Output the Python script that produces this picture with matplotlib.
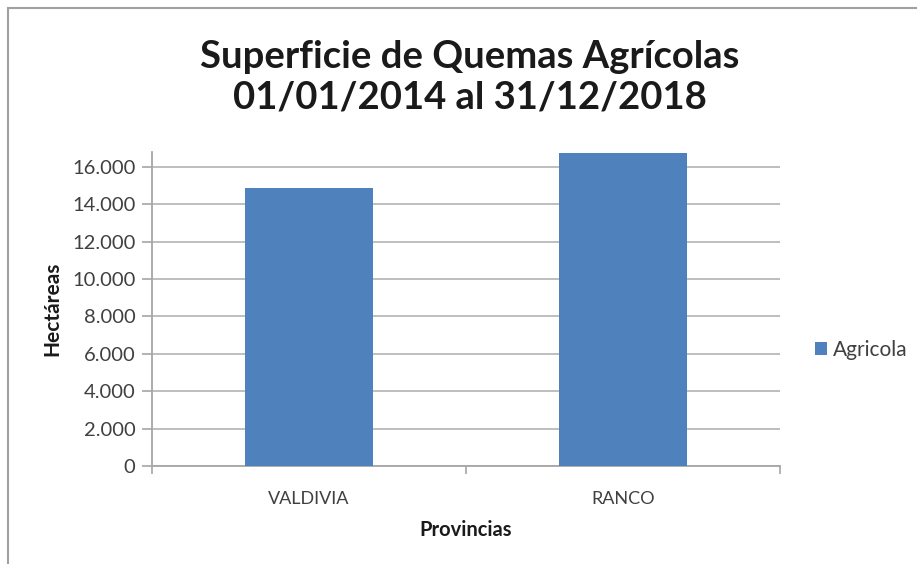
import matplotlib
matplotlib.use("Agg")
import matplotlib.pyplot as plt
from matplotlib.ticker import FuncFormatter, FixedLocator
from matplotlib.patches import Rectangle

provincias = ["VALDIVIA", "RANCO"]
agricola = [14860, 16770]
serie = "Agricola"
titulo = "Superficie de Quemas Agrícolas\n01/01/2014 al 31/12/2018"
yticks = [0, 2000, 4000, 6000, 8000, 10000, 12000, 14000, 16000]

plt.rcParams['font.family'] = ['Lato', 'DejaVu Sans']

fig = plt.figure(figsize=(9.17, 5.64), dpi=100)
ax = fig.add_axes([152/917, 1-466/564, (780-152)/917, (466-152)/564])

x = list(range(len(provincias)))
ax.bar(x, agricola, width=0.405, color="#4f81bd", label=serie, zorder=3)
ax.set_xlim(-0.5, len(provincias) - 0.5)
ax.set_ylim(0, 16800)

ax.yaxis.set_major_locator(FixedLocator(yticks))
ax.yaxis.set_major_formatter(FuncFormatter(lambda v, p: f"{int(v):,}".replace(",", ".")))
ax.grid(axis="y", color="#b3b3b3", linewidth=1.2, zorder=0)
ax.set_xticks(x)
ax.set_xticklabels(provincias)
ax.xaxis.set_minor_locator(FixedLocator([-0.5, 0.5, 1.5]))

for s in ["top", "right"]:
    ax.spines[s].set_visible(False)
for s in ["left", "bottom"]:
    ax.spines[s].set_color("#a6a6a6")
    ax.spines[s].set_linewidth(1.3)

ax.tick_params(axis="y", length=7, color="#a6a6a6", width=1.2, labelsize=14.5, labelcolor="#404040", pad=5)
ax.tick_params(axis="x", which="major", length=0, labelsize=13, labelcolor="#404040", pad=18)
ax.tick_params(axis="x", which="minor", length=6, color="#a6a6a6", width=1.2)

ax.set_ylabel("Hectáreas", fontsize=15, fontweight="bold", color="#1a1a1a", labelpad=7)
ax.set_xlabel("Provincias", fontsize=14.5, fontweight="bold", color="#1a1a1a", labelpad=9)

fig.text(470/917, 1-77/564, titulo, ha="center", va="center", fontsize=27.5,
         fontweight="bold", color="#1a1a1a", linespacing=1.25)

leg = ax.legend(loc="center left", bbox_to_anchor=(796/917, 1-350/564), bbox_transform=fig.transFigure,
                frameon=False, fontsize=15, handlelength=0.6, handleheight=0.6, handletextpad=0.25,
                labelcolor="#404040")

fig.patches.append(Rectangle((8/917, -0.1), 1.2, 1-8/564+0.1, transform=fig.transFigure,
                             fill=False, edgecolor="#a0a0a0", linewidth=1.5))

fig.savefig("out.png", dpi=100)
